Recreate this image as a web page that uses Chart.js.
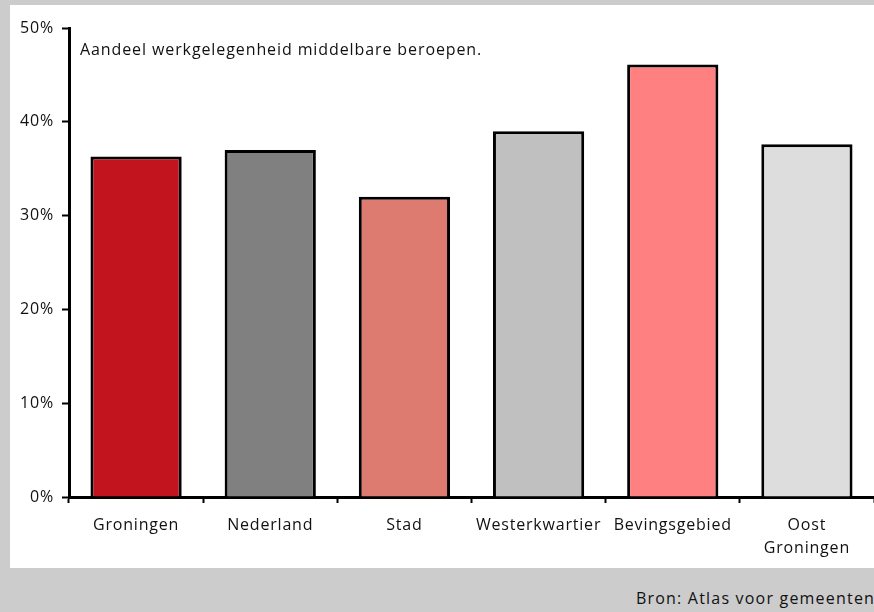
<!DOCTYPE html>
<html>
<head>
<meta charset="utf-8">
<script src="https://cdn.jsdelivr.net/npm/chart.js@4.4.0/dist/chart.umd.min.js"></script>
<style>
  html, body { margin: 0; padding: 0; width: 874px; height: 612px; overflow: hidden; background: #cccccc; }
  #frame { position: absolute; left: 10px; top: 5px; width: 864px; height: 563px; background: #ffffff; }
  #wrap { position: absolute; left: 0; top: 0; width: 864px; height: 563px; }
  #title { position: absolute; left: 70px; top: 33px; font-family: "Open Sans", sans-serif; font-size: 16px; letter-spacing: 0.9px; color: #111; white-space: nowrap; }
  #source { position: absolute; left: 636px; top: 587px; font-family: "Open Sans", sans-serif; font-size: 16px; letter-spacing: 1.2px; color: #111; white-space: nowrap; }
</style>
</head>
<body>
<div id="frame">
  <div id="wrap"><canvas id="c"></canvas></div>
  <div id="title">Aandeel werkgelegenheid middelbare beroepen.</div>
</div>
<div id="source">Bron: Atlas voor gemeenten</div>
<script>
const categories = ["Groningen", "Nederland", "Stad", "Westerkwartier", "Bevingsgebied", ["Oost", "Groningen"]];
const shareValues = [36.3, 37.0, 32.0, 39.0, 46.1, 37.6];
const barColors = ["#c1141f", "#808080", "#de7b70", "#c0c0c0", "#ff8080", "#dddddd"];
const yTickValues = [0, 10, 20, 30, 40, 50];

Chart.defaults.font.family = '"Open Sans", sans-serif';
Chart.defaults.font.size = 16;
Chart.defaults.color = '#111';

const spacing = {
  id: 'spacing',
  beforeInit(chart) { chart.ctx.letterSpacing = '0.8px'; },
  beforeUpdate(chart) { chart.ctx.letterSpacing = '0.8px'; },
  beforeDraw(chart) { chart.ctx.letterSpacing = '0.8px'; }
};

new Chart(document.getElementById('c'), {
  type: 'bar',
  plugins: [spacing],
  data: {
    labels: categories,
    datasets: [{
      data: shareValues,
      backgroundColor: barColors,
      borderColor: '#000',
      borderWidth: 3,
      categoryPercentage: 1.0,
      barPercentage: 0.68
    }]
  },
  options: {
    responsive: true,
    maintainAspectRatio: false,
    animation: false,
    layout: { padding: { top: 23, right: 0, left: 0, bottom: 0 } },
    plugins: { legend: { display: false }, tooltip: { enabled: false } },
    scales: {
      x: {
        grid: { display: true, drawOnChartArea: false, drawTicks: true, tickLength: 6, tickWidth: 2, tickColor: '#000', offset: true },
        border: { display: true, color: '#000', width: 3 },
        ticks: { padding: 11, maxRotation: 0, autoSkip: false, font: { lineHeight: 1.45 } },
        afterFit: (s) => { s.height = 71; }
      },
      y: {
        min: 0, max: 50,
        afterBuildTicks: (s) => { s.ticks = yTickValues.map(v => ({ value: v })); },
        grid: { display: true, drawOnChartArea: false, drawTicks: true, tickLength: 7, tickWidth: 2, tickColor: '#000' },
        border: { display: true, color: '#000', width: 3 },
        ticks: { padding: 8, callback: (v) => v + '%' },
        afterFit: (s) => { s.width = 59; }
      }
    }
  }
});
</script>
</body>
</html>
